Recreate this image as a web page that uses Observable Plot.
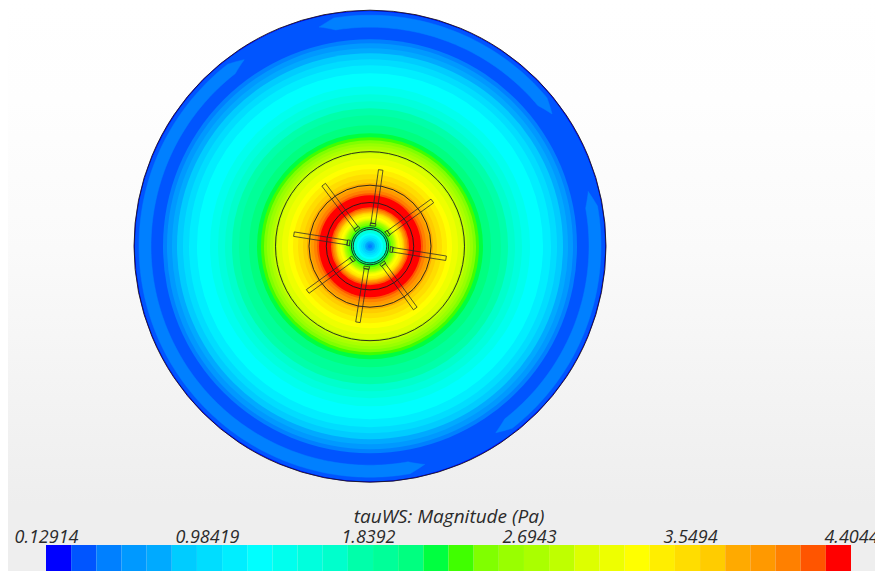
<!DOCTYPE html>
<html><head><meta charset="utf-8">
<script src="https://cdn.jsdelivr.net/npm/d3@7"></script>
<script src="https://cdn.jsdelivr.net/npm/@observablehq/plot@0.6"></script>
<style>
html,body{margin:0;padding:0;background:#fff;overflow:hidden}
#stage{position:absolute;left:8px;top:0;width:867px;height:571px;background:linear-gradient(#ffffff 0,#fefefe 100px,#fafafa 250px,#f2f2f2 420px,#eeeeee 505px,#eeeeee 571px)}
#holder{position:absolute;left:0;top:0;width:875px;height:571px}
#holder svg{position:absolute;left:0;display:block}
</style></head><body><div id="stage"></div><div id="holder"></div>
<script>
const bandColors = ["#0000ff","#0055ff","#0080ff","#0099ff","#00aaff","#00ccff","#00ddff","#00eeff","#00ffff","#00ffee","#00ffdd","#00ffcc","#00ffaa","#00ff99","#00ff80","#00ff40","#40ff00","#80ff00","#99ff00","#aaff00","#bfff00","#ddff00","#eeff00","#ffff00","#ffee00","#ffdd00","#ffcc00","#ffaa00","#ff9900","#ff8000","#ff5500","#ff0000"];
const scaleMin = 0.12914, scaleMax = 4.4044;
const tickValues = [0.12914, 0.98419, 1.8392, 2.6943, 3.5494, 4.4044];
const scaleTitle = "tauWS: Magnitude (Pa)";
// contour rings, outermost to innermost: band index and outer radius
const ringBand =   [0,1,2,3,4,5,6,7,8,9,10,11,12,13,14,15,16,17,18,19,20,21,22,23,24,25,26,27,28,29,30,31,30,29,28,27,26,25,24,23,22,21,20,19,18,17,16,15,14,12,10,8,7,6,5,4,3,2];
const ringRadius = [236,235,207,203,198,193,187,181,173,160,152,145,138,131,121,113,109,106,103,100,97,93,88,82,77,72,67,63,59,56,53,51,39,37.5,36,35,34,33,32,30,28,27,26,25,24,23,21,19.5,18,17,16,13,11,9,7,5,3.5,2];
// lighter patches of the outer ring: start and end angle, clockwise from the top
const patchStart = [-13, 76, 166];
const patchEnd   = [54, 146, 326];
const patchRadius = 225, patchHalfWidth = 6, patchTaper = 4, patchBand = 2;
// black geometry outlines
const circleRadius = [236, 94.5, 61, 43.7, 18.6, 16.8];
const bladeAngle = [8, 54, 99, 144, 189, 234, 279, 323];
const bladeInner = 23, bladeOuter = 77, bladeWidth = 4.5;
const headInner = 20.5, headWidth = 5.5;

const rings = ringBand.map((band, i) => ({band, r: ringRadius[i]}));
const rad = d => d * Math.PI / 180;
const polar = (a, r, w = 0) => ({x: r * Math.sin(rad(a)) + w * Math.cos(rad(a)), y: -r * Math.cos(rad(a)) + w * Math.sin(rad(a))});
const patches = patchStart.flatMap((s, i) => {
  const e = patchEnd[i], angles = d3.range(s, e + 0.01, 1);
  const half = a => patchHalfWidth * Math.min(1, (a - s) / patchTaper, (e - a) / patchTaper);
  const outer = angles.map(a => ({id: i, band: patchBand, ...polar(a, patchRadius + half(a))}));
  const inner = angles.slice().reverse().map(a => ({id: i, band: patchBand, ...polar(a, patchRadius - half(a))}));
  return [...outer, ...inner];
});
const rectOutline = (id, a, r0, r1, w) => [[r0,-w/2],[r1,-w/2],[r1,w/2],[r0,w/2],[r0,-w/2]].map(([r, t]) => ({id, ...polar(a, r, t)}));
const blades = bladeAngle.flatMap((a, i) => [...rectOutline("b" + i, a, bladeInner, bladeOuter, bladeWidth), ...rectOutline("h" + i, a, headInner, bladeInner, headWidth)]);
const colorOpt = {type: "ordinal", domain: d3.range(bandColors.length), range: bandColors};

const disc = Plot.plot({
  width: 875, height: 495, margin: 0,
  style: {background: "transparent"},
  x: {domain: [-369.5, 505.5], axis: null},
  y: {domain: [-245.7, 249.3], reverse: true, axis: null},
  r: {type: "linear", domain: [0, 236], range: [0, 236]},
  color: colorOpt,
  marks: [
    Plot.dot(rings, {x: () => 0, y: () => 0, r: "r", fill: "band", stroke: "none"}),
    Plot.line(patches, {x: "x", y: "y", z: "id", fill: "band", stroke: "band", strokeWidth: 0.5, curve: "linear"}),
    Plot.dot(circleRadius, {x: () => 0, y: () => 0, r: d => d, fill: "none", stroke: "#1c1c1c", strokeWidth: 0.9}),
    Plot.line(blades, {x: "x", y: "y", z: "id", stroke: "#2a2a2a", strokeWidth: 0.9, strokeOpacity: 0.85, curve: "linear"})
  ]
});

const step = (scaleMax - scaleMin) / bandColors.length;
const bar = bandColors.map((c, i) => ({band: i, x1: scaleMin + i * step, x2: scaleMin + (i + 1) * step}));
const legend = Plot.plot({
  width: 875, height: 76, marginLeft: 46, marginRight: 24, marginTop: 50, marginBottom: 0,
  style: {background: "transparent", fontFamily: "'Open Sans', sans-serif", fontStyle: "italic", color: "#2a2a2a"},
  x: {domain: [scaleMin, scaleMax]},
  color: colorOpt,
  marks: [
    Plot.rect(bar, {x1: "x1", x2: "x2", fill: "band"}),
    Plot.axisX({anchor: "top", ticks: tickValues, tickSize: 0, tickPadding: 3, tickFormat: d => String(d), label: null, fontSize: 18, fontStyle: "italic"}),
    Plot.text([scaleTitle], {x: () => (scaleMin + scaleMax) / 2, frameAnchor: "top", dy: -23, lineAnchor: "bottom", fontSize: 19, fontStyle: "italic", fill: "#2a2a2a"})
  ]
});
legend.style.top = "495px";
disc.style.top = "0";
document.getElementById("holder").append(disc, legend);
</script></body></html>
